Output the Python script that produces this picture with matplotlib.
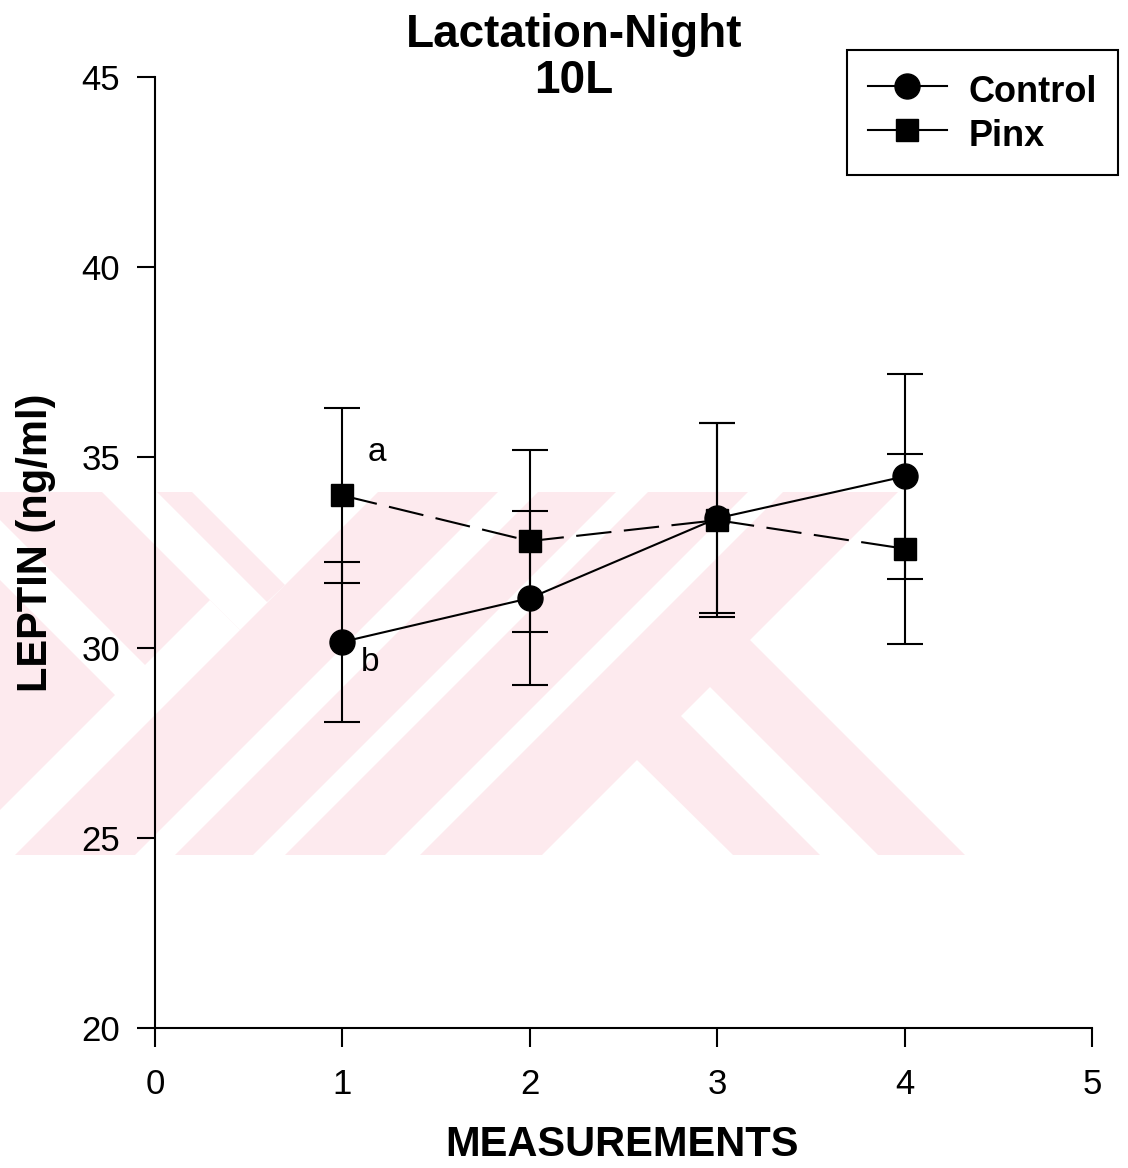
import matplotlib
matplotlib.use("Agg")
import matplotlib.pyplot as plt
from matplotlib.patches import Polygon
from matplotlib.lines import Line2D

plt.rcParams['font.family'] = ['Liberation Sans', 'DejaVu Sans']

# ---- data ----
measurements = [1, 2, 3, 4]
control_mean = [30.15, 31.3, 33.4, 34.5]
control_err = [2.1, 2.28, 2.5, 2.7]
pinx_mean = [34.0, 32.8, 33.35, 32.6]
pinx_err = [2.3, 2.4, 2.55, 2.5]
series_labels = ["Control", "Pinx"]
x_ticks = [0, 1, 2, 3, 4, 5]
y_ticks = [20, 25, 30, 35, 40, 45]
title_lines = ["Lactation-Night", "10L"]

W, H = 1128, 1168
fig = plt.figure(figsize=(W / 100, H / 100), dpi=100)

# ---- faint background watermark (pixel space) ----
bg = fig.add_axes([0, 0, 1, 1], zorder=0)
bg.set_xlim(0, W)
bg.set_ylim(H, 0)
bg.axis('off')
pink = '#fdeaee'
top, bot = 492, 855
bg.add_patch(Polygon([(0, top), (1000, top), (1000, bot), (0, bot)],
                     closed=True, facecolor=pink, edgecolor='none'))
white_shapes = [
    [(898, top), (1128, top), (1128, bot), (965, bot), (750, 640)],
    [(710, 687), (878, bot), (820, bot), (681, 716)],
    [(637, 760), (733, bot), (542, bot)],
    [(748, top), (783, top), (420, bot), (385, bot)],
    [(616, top), (648, top), (285, bot), (253, bot)],
    [(498, top), (538, top), (175, bot), (135, bot)],
    [(102, top), (378, top), (240, 630)],
    [(240, 630), (15, bot), (0, bot), (0, 810), (210, 600)],
    [(0, 520), (150, 670), (120, 700), (0, 580)],
]
for pts in white_shapes:
    bg.add_patch(Polygon(pts, closed=True, facecolor='white', edgecolor='none'))
# narrow pink band inside the upper-left white wedge
bg.add_patch(Polygon([(157, top), (192, top), (285, 585), (267, 602)],
                     closed=True, facecolor=pink, edgecolor='none'))

# ---- main axes ----
ax = fig.add_axes([155 / W, 1 - 1028 / H, (1092 - 155) / W, (1028 - 77) / H], zorder=1)
ax.set_facecolor('none')
ax.set_xlim(0, 5)
ax.set_ylim(20, 45)
for s in ['top', 'right']:
    ax.spines[s].set_visible(False)
for s in ['left', 'bottom']:
    ax.spines[s].set_linewidth(1.5)
    ax.spines[s].set_color('black')

ax.set_xticks(x_ticks)
ax.set_yticks(y_ticks)
ax.tick_params(axis='x', direction='out', length=14, width=1.5, pad=15, labelsize=25)
ax.tick_params(axis='y', direction='out', length=13, width=1.5, pad=12, labelsize=25)

lw = 1.5
ax.errorbar(measurements, control_mean, yerr=control_err, fmt='o', color='black',
            markersize=18, ecolor='black', elinewidth=lw, capsize=13, capthick=lw,
            linestyle='-', linewidth=lw, zorder=4)
ax.errorbar(measurements, pinx_mean, yerr=pinx_err, fmt='s', color='black',
            markersize=16, ecolor='black', elinewidth=lw, capsize=13, capthick=lw,
            linestyle=(0, (17, 6)), linewidth=lw, zorder=3)

ax.annotate('a', xy=(measurements[0], pinx_mean[0]), xytext=(25, 31),
            textcoords='offset points', ha='center', va='center', fontsize=24)
ax.annotate('b', xy=(measurements[0], control_mean[0]), xytext=(20, -15),
            textcoords='offset points', ha='center', va='center', fontsize=24)

# legend (solid lines in both handles)
handles = [
    Line2D([], [], color='black', lw=lw, marker='o', markersize=18),
    Line2D([], [], color='black', lw=lw, marker='s', markersize=16),
]
leg = ax.legend(handles, series_labels, loc='upper right',
                bbox_to_anchor=(1118 / W, 1 - 50 / H), bbox_transform=fig.transFigure,
                borderaxespad=0, fancybox=False, frameon=True, framealpha=1,
                edgecolor='black', handlelength=2.2, handletextpad=0.6,
                handleheight=1.2, labelspacing=0.15, borderpad=0.58,
                prop={'weight': 'bold', 'size': 26})
leg.get_frame().set_linewidth(1.5)

# titles and axis labels
fig.text(574 / W, 1 - 47 / H, title_lines[0], ha='center', va='baseline',
         fontsize=33, fontweight='bold')
fig.text(574 / W, 1 - 93 / H, title_lines[1], ha='center', va='baseline',
         fontsize=33, fontweight='bold')
fig.text(622 / W, 1 - 1145 / H, 'MEASUREMENTS', ha='center', va='center',
         fontsize=30, fontweight='bold')
fig.text(36 / W, 1 - 543 / H, 'LEPTIN (ng/ml)', ha='center', va='center',
         rotation=90, fontsize=30, fontweight='bold')

fig.savefig('out.png', dpi=100)
